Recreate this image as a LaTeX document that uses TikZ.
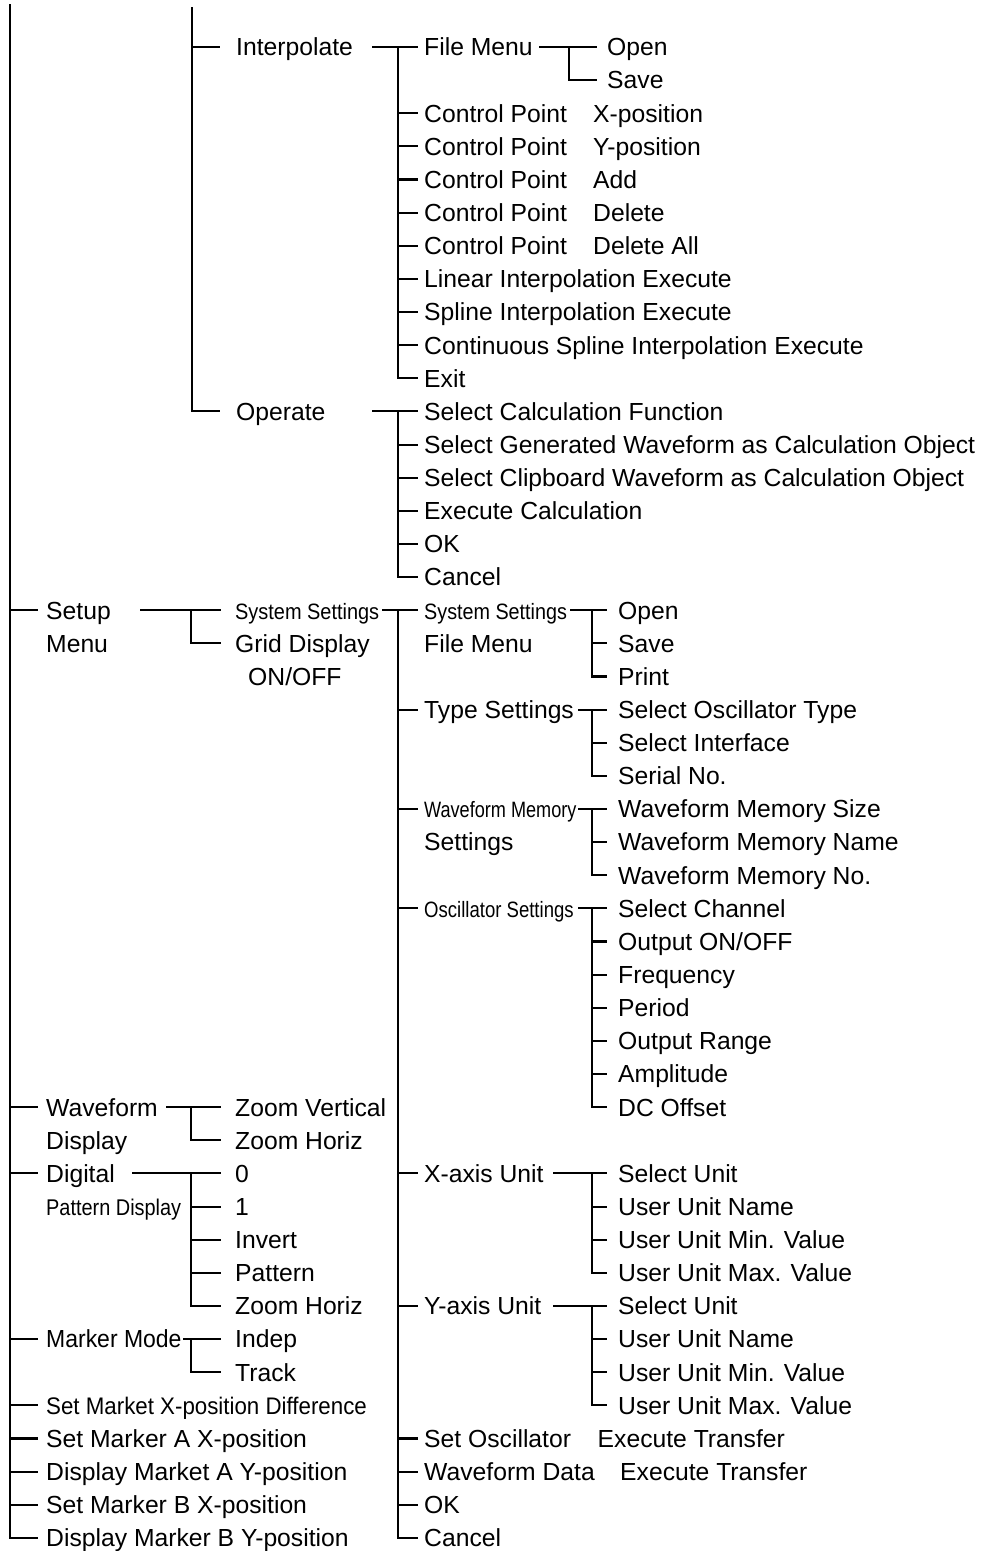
\documentclass[tikz,border=0pt]{standalone}
\usepackage{fontspec}
\setmainfont{Liberation Sans}
\usepackage{graphicx}
\newcommand\fs{\fontsize{24.7}{29}\selectfont}
\newcommand\nw[3]{\scalebox{#1}[#2]{#3}}
\newcommand\tn[4]{\node[lbl] (#1) at (#2,{rw(#3)}) {#4};}
\begin{document}
\begin{tikzpicture}[x=1pt,y=-1pt,
  declare function={rw(\r)=47+33.13*\r;},
  lbl/.style={anchor=west,inner sep=0pt,text height=17.7pt,text depth=0pt,font=\fs},
  ln/.style={line width=2.1pt,line join=miter}]
\useasboundingbox (0,0) rectangle (989,1551);
% ---------- level 1 ----------
\tn{setup}{46}{17}{Setup}
\tn{menu}{46}{18}{Menu}
\tn{wfd}{46}{32}{Waveform}
\tn{wfd2}{46}{33}{Display}
\tn{dig}{46}{34}{Digital}
\tn{dig2}{46}{35}{\nw{0.806}{0.92}{Pattern Display}}
\tn{mm}{46}{39}{\nw{0.93}{1}{Marker Mode}}
\tn{smx}{46}{41}{\nw{0.903}{0.97}{Set Market X-position Difference}}
\tn{sma}{46}{42}{Set Marker A X-position}
\tn{dma}{46}{43}{Display Market A Y-position}
\tn{smb}{46}{44}{Set Marker B X-position}
\tn{dmb}{46}{45}{Display Marker B Y-position}
% ---------- level 2 ----------
\tn{interp}{236}{0}{Interpolate}
\tn{oper}{236}{11}{Operate}
\tn{ssa}{235}{17}{\nw{0.807}{0.9}{System Settings}}
\tn{grid}{235}{18}{Grid Display}
\tn{onoff}{248}{19}{ON/OFF}
\tn{zv}{235}{32}{Zoom Vertical}
\tn{zha}{235}{33}{Zoom Horiz}
\tn{dz}{235}{34}{0}
\tn{done}{235}{35}{1}
\tn{dinv}{235}{36}{Invert}
\tn{dpat}{235}{37}{Pattern}
\tn{zhb}{235}{38}{Zoom Horiz}
\tn{indep}{235}{39}{Indep}
\tn{track}{235}{40}{Track}
% ---------- level 3 ----------
\tn{fm}{424}{0}{File Menu}
\tn{cpa}{424}{2}{Control Point}
\tn{cpb}{424}{3}{Control Point}
\tn{cpc}{424}{4}{Control Point}
\tn{cpd}{424}{5}{Control Point}
\tn{cpe}{424}{6}{Control Point}
\tn{cpax}{593}{2}{X-position}
\tn{cpbx}{593}{3}{Y-position}
\tn{cpcx}{593}{4}{Add}
\tn{cpdx}{593}{5}{Delete}
\tn{cpex}{593}{6}{Delete All}
\tn{lin}{424}{7}{Linear Interpolation Execute}
\tn{spl}{424}{8}{Spline Interpolation Execute}
\tn{cont}{424}{9}{Continuous Spline Interpolation Execute}
\tn{exit}{424}{10}{Exit}
\tn{scf}{424}{11}{Select Calculation Function}
\tn{sgw}{424}{12}{Select Generated Waveform as Calculation Object}
\tn{scw}{424}{13}{Select Clipboard Waveform as Calculation Object}
\tn{exc}{424}{14}{Execute Calculation}
\tn{oka}{424}{15}{OK}
\tn{cana}{424}{16}{Cancel}
\tn{ssb}{424}{17}{\nw{0.80}{0.9}{System Settings}}
\tn{fmb}{424}{18}{File Menu}
\tn{ts}{424}{20}{Type Settings}
\tn{wm}{424}{23}{\nw{0.733}{0.9}{Waveform Memory}}
\tn{wms}{424}{24}{Settings}
\tn{os}{424}{26}{\nw{0.751}{0.9}{Oscillator Settings}}
\tn{xa}{424}{34}{X-axis Unit}
\tn{ya}{424}{38}{Y-axis Unit}
\tn{so}{424}{42}{Set Oscillator}
\tn{sox}{597.5}{42}{Execute Transfer}
\tn{wd}{424}{43}{Waveform Data}
\tn{wdx}{620}{43}{Execute Transfer}
\tn{okb}{424}{44}{OK}
\tn{canb}{424}{45}{Cancel}
% ---------- level 4 ----------
\tn{opena}{607}{0}{Open}
\tn{savea}{607}{1}{Save}
\tn{openb}{618}{17}{Open}
\tn{saveb}{618}{18}{Save}
\tn{print}{618}{19}{Print}
\tn{sot}{618}{20}{Select Oscillator Type}
\tn{sif}{618}{21}{Select Interface}
\tn{ser}{618}{22}{Serial No.}
\tn{wmsz}{618}{23}{Waveform Memory Size}
\tn{wmnm}{618}{24}{Waveform Memory Name}
\tn{wmno}{618}{25}{Waveform Memory No.}
\tn{sch}{618}{26}{Select Channel}
\tn{oo}{618}{27}{Output ON/OFF}
\tn{frq}{618}{28}{Frequency}
\tn{per}{618}{29}{Period}
\tn{orng}{618}{30}{Output Range}
\tn{amp}{618}{31}{Amplitude}
\tn{dco}{618}{32}{DC Offset}
\tn{xsu}{618}{34}{Select Unit}
\tn{xun}{618}{35}{User Unit Name}
\tn{xmin}{618}{36}{User Unit Min. Value}
\tn{xmax}{618}{37}{User Unit Max. Value}
\tn{ysu}{618}{38}{Select Unit}
\tn{yun}{618}{39}{User Unit Name}
\tn{ymin}{618}{40}{User Unit Min. Value}
\tn{ymax}{618}{41}{User Unit Max. Value}
% ---------- connectors ----------
% main trunk
\draw[ln] (10,4) |- ([xshift=-8pt]dmb.west);
\foreach \n in {setup,wfd,dig,mm,smx,sma,dma,smb}
  \draw[ln] ([xshift=-36pt]\n.west) -- ([xshift=-8pt]\n.west);
% second trunk
\draw[ln] (192,7) |- ([xshift=-16pt]oper.west);
\draw[ln] ([xshift=-44pt]interp.west) -- ([xshift=-16pt]interp.west);
% Interpolate
\draw[ln] ([xshift=136pt]interp.west) -- ([xshift=-6pt]fm.west);
\draw[ln] ([xshift=-26pt]fm.west) |- ([xshift=-6pt]exit.west);
\foreach \n in {cpa,cpb,cpc,cpd,cpe,lin,spl,cont}
  \draw[ln] ([xshift=-26pt]\n.west) -- ([xshift=-6pt]\n.west);
% File Menu
\draw[ln] ([xshift=115pt]fm.west) -- ([xshift=-10pt]opena.west);
\draw[ln] ([xshift=-38pt]opena.west) |- ([xshift=-10pt]savea.west);
% Operate
\draw[ln] ([xshift=136pt]oper.west) -- ([xshift=-6pt]scf.west);
\draw[ln] ([xshift=-26pt]scf.west) |- ([xshift=-6pt]cana.west);
\foreach \n in {sgw,scw,exc,oka}
  \draw[ln] ([xshift=-26pt]\n.west) -- ([xshift=-6pt]\n.west);
% Setup Menu
\draw[ln] ([xshift=94pt]setup.west) -- ([xshift=-14pt]ssa.west);
\draw[ln] ([xshift=-44pt]ssa.west) |- ([xshift=-14pt]grid.west);
% System Settings (level 2)
\draw[ln] ([xshift=147pt]ssa.west) -- ([xshift=-6pt]ssb.west);
\draw[ln] ([xshift=-26pt]ssb.west) |- ([xshift=-6pt]canb.west);
\foreach \n in {ts,wm,os,xa,ya,so,wd,okb}
  \draw[ln] ([xshift=-26pt]\n.west) -- ([xshift=-6pt]\n.west);
% level 3 brackets
\draw[ln] ([xshift=146pt]ssb.west) -- ([xshift=-11pt]openb.west);
\draw[ln] ([xshift=-26pt]openb.west) |- ([xshift=-11pt]print.west);
\draw[ln] ([xshift=-26pt]saveb.west) -- ([xshift=-11pt]saveb.west);
\draw[ln] ([xshift=154pt]ts.west) -- ([xshift=-11pt]sot.west);
\draw[ln] ([xshift=-26pt]sot.west) |- ([xshift=-11pt]ser.west);
\draw[ln] ([xshift=-26pt]sif.west) -- ([xshift=-11pt]sif.west);
\draw[ln] ([xshift=154pt]wm.west) -- ([xshift=-11pt]wmsz.west);
\draw[ln] ([xshift=-26pt]wmsz.west) |- ([xshift=-11pt]wmno.west);
\draw[ln] ([xshift=-26pt]wmnm.west) -- ([xshift=-11pt]wmnm.west);
\draw[ln] ([xshift=154pt]os.west) -- ([xshift=-11pt]sch.west);
\draw[ln] ([xshift=-26pt]sch.west) |- ([xshift=-11pt]dco.west);
\foreach \n in {oo,frq,per,orng,amp}
  \draw[ln] ([xshift=-26pt]\n.west) -- ([xshift=-11pt]\n.west);
\draw[ln] ([xshift=129pt]xa.west) -- ([xshift=-11pt]xsu.west);
\draw[ln] ([xshift=-26pt]xsu.west) |- ([xshift=-11pt]xmax.west);
\foreach \n in {xun,xmin}
  \draw[ln] ([xshift=-26pt]\n.west) -- ([xshift=-11pt]\n.west);
\draw[ln] ([xshift=129pt]ya.west) -- ([xshift=-11pt]ysu.west);
\draw[ln] ([xshift=-26pt]ysu.west) |- ([xshift=-11pt]ymax.west);
\foreach \n in {yun,ymin}
  \draw[ln] ([xshift=-26pt]\n.west) -- ([xshift=-11pt]\n.west);
% Waveform Display
\draw[ln] ([xshift=120pt]wfd.west) -- ([xshift=-14pt]zv.west);
\draw[ln] ([xshift=-44pt]zv.west) |- ([xshift=-14pt]zha.west);
% Digital Pattern Display
\draw[ln] ([xshift=86pt]dig.west) -- ([xshift=-14pt]dz.west);
\draw[ln] ([xshift=-44pt]dz.west) |- ([xshift=-14pt]zhb.west);
\foreach \n in {done,dinv,dpat}
  \draw[ln] ([xshift=-44pt]\n.west) -- ([xshift=-14pt]\n.west);
% Marker Mode
\draw[ln] ([xshift=137pt]mm.west) -- ([xshift=-14pt]indep.west);
\draw[ln] ([xshift=-44pt]indep.west) |- ([xshift=-14pt]track.west);
\end{tikzpicture}
\end{document}
